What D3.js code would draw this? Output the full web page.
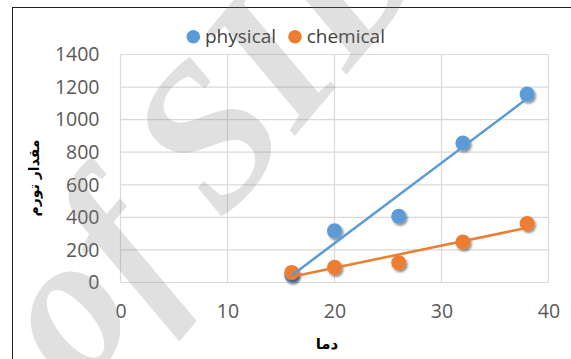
<!DOCTYPE html>
<html>
<head>
<meta charset="utf-8">
<script src="https://cdn.jsdelivr.net/npm/d3@7"></script>
<style>
  html, body { margin: 0; padding: 0; background: #fff; }
  svg { display: block; }
</style>
</head>
<body>
<svg id="chart" width="571" height="359"></svg>
<script>
// ---- data ----
const temps = [16, 20, 26, 32, 38];
const physical = [45, 317, 407, 857, 1157];
const chemical = [62, 93, 121, 249, 362];
const xTicks = [0, 10, 20, 30, 40];
const yTicks = [0, 200, 400, 600, 800, 1000, 1200, 1400];
const seriesNames = ["physical", "chemical"];
const seriesColors = ["#5B9BD5", "#ED7D31"];
const xTitle = "دما";
const yTitle = "مقدار تورم";
const watermarkText = "of SID";

const svg = d3.select("#chart");
const W = 571, H = 359;

const x = d3.scaleLinear().domain([0, 40]).range([120.5, 548.5]);
const y = d3.scaleLinear().domain([0, 1400]).range([282.5, 54.5]);

// drop shadow
const defs = svg.append("defs");
const f = defs.append("filter").attr("id", "shadow").attr("x", "-50%").attr("y", "-50%").attr("width", "200%").attr("height", "200%");
f.append("feDropShadow").attr("dx", 1.5).attr("dy", 2).attr("stdDeviation", 1.3)
  .attr("flood-color", "#000").attr("flood-opacity", 0.45);

// border
svg.append("line").attr("x1", 12.5).attr("x2", 12.5).attr("y1", 7.5).attr("y2", H)
  .attr("stroke", "#222").attr("stroke-width", 1);
svg.append("line").attr("x1", 12).attr("x2", W).attr("y1", 7.5).attr("y2", 7.5)
  .attr("stroke", "#222").attr("stroke-width", 1);

// gridlines
const grid = svg.append("g");
grid.selectAll("line.v").data(xTicks).join("line")
  .attr("x1", d => x(d)).attr("x2", d => x(d))
  .attr("y1", y(0)).attr("y2", y(1400))
  .attr("stroke", "#d9d9d9").attr("stroke-width", 1.2);
grid.selectAll("line.h").data(yTicks).join("line")
  .attr("x1", x(0)).attr("x2", x(40))
  .attr("y1", d => y(d)).attr("y2", d => y(d))
  .attr("stroke", "#d9d9d9").attr("stroke-width", 1.2);

// axes
const tickFont = "'Open Sans', sans-serif";
const yAxis = svg.append("g").attr("transform", `translate(${x(0)},0)`)
  .call(d3.axisLeft(y).tickValues(yTicks).tickSize(0).tickPadding(21).tickFormat(d3.format("d")));
const xAxis = svg.append("g").attr("transform", `translate(0,${y(0)})`)
  .call(d3.axisBottom(x).tickValues(xTicks).tickSize(0).tickPadding(22).tickFormat(d3.format("d")));
[xAxis, yAxis].forEach(a => {
  a.select(".domain").remove();
  a.selectAll("text").attr("font-family", tickFont).attr("font-size", 19.5).attr("fill", "#595959");
});

// axis titles
svg.append("text").attr("transform", `translate(39,178) rotate(-90)`)
  .attr("text-anchor", "middle").attr("font-family", "'DejaVu Sans', sans-serif")
  .attr("font-weight", "bold").attr("font-size", 14).attr("fill", "#000").text(yTitle);
svg.append("text").attr("x", 327).attr("y", 349)
  .attr("text-anchor", "middle").attr("font-family", "'DejaVu Sans', sans-serif")
  .attr("font-weight", "bold").attr("font-size", 15).attr("fill", "#000").text(xTitle);

// legend
const legendX = [193.3, 295];
const leg = svg.append("g");
seriesNames.forEach((n, i) => {
  leg.append("circle").attr("cx", legendX[i]).attr("cy", 36.7).attr("r", 6.8).attr("fill", seriesColors[i]);
  leg.append("text").attr("x", legendX[i] + 11.7).attr("y", 43.3)
    .attr("font-family", tickFont).attr("font-size", 19).attr("fill", "#404040").text(n);
});

// markers
const allSeries = [physical, chemical];
allSeries.forEach((vals, i) => {
  svg.append("g").attr("filter", "url(#shadow)")
    .selectAll("circle").data(temps.map((t, k) => [t, vals[k]])).join("circle")
    .attr("cx", d => x(d[0])).attr("cy", d => y(d[1])).attr("r", 7.5)
    .attr("fill", seriesColors[i]);
});

// linear trendlines (least squares from the data)
function fit(xs, ys) {
  const mx = d3.mean(xs), my = d3.mean(ys);
  let sxy = 0, sxx = 0;
  xs.forEach((v, k) => { sxy += (v - mx) * (ys[k] - my); sxx += (v - mx) ** 2; });
  const b = sxy / sxx; const a = my - b * mx;
  return v => a + b * v;
}
allSeries.forEach((vals, i) => {
  const fn = fit(temps, vals);
  const ext = d3.extent(temps);
  svg.append("line")
    .attr("x1", x(ext[0])).attr("y1", y(fn(ext[0])))
    .attr("x2", x(ext[1])).attr("y2", y(fn(ext[1])))
    .attr("stroke", seriesColors[i]).attr("stroke-width", 2.5);
});

// watermark
svg.append("text").attr("transform", "translate(80,392) rotate(-50)")
  .attr("font-family", "'Liberation Serif', serif").attr("font-style", "italic").attr("font-weight", "bold")
  .attr("font-size", 205).attr("fill", "#808080").attr("opacity", 0.24)
  .text(watermarkText);
</script>
</body>
</html>
